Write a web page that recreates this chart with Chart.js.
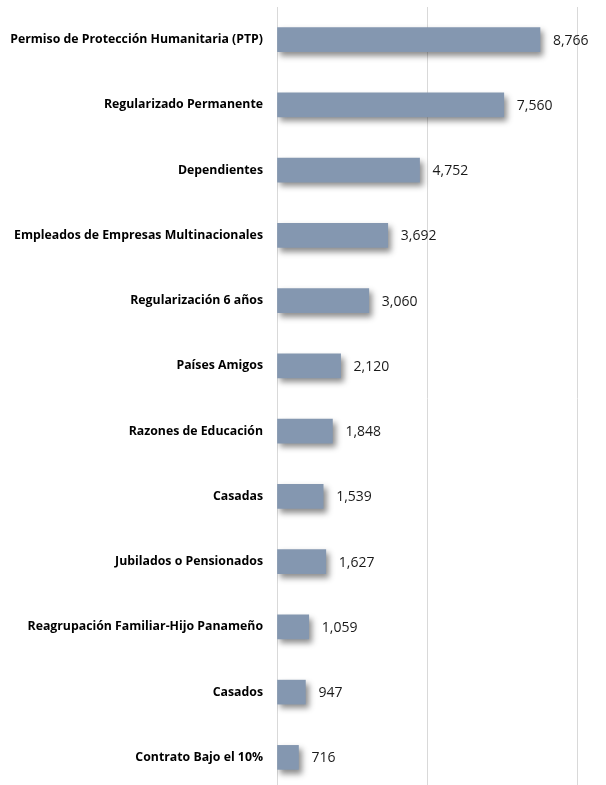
<!DOCTYPE html>
<html>
<head>
<meta charset="utf-8">
<script src="https://cdn.jsdelivr.net/npm/chart.js@4/dist/chart.umd.min.js"></script>
<style>
    html, body { margin: 0; padding: 0; background: #fff; overflow: hidden; }
    #wrap { position: relative; width: 606px; height: 790px; }
</style>
</head>
<body>
<div id="wrap"><canvas id="myChart"></canvas></div>
<script>
var categories = [
    'Permiso de Protección Humanitaria (PTP)',
    'Regularizado Permanente',
    'Dependientes',
    'Empleados de Empresas Multinacionales',
    'Regularización 6 años',
    'Países Amigos',
    'Razones de Educación',
    'Casadas',
    'Jubilados o Pensionados',
    'Reagrupación Familiar-Hijo Panameño',
    'Casados',
    'Contrato Bajo el 10%'
];
var values = [8766, 7560, 4752, 3692, 3060, 2120, 1848, 1539, 1627, 1059, 947, 716];
var axisMin = 0;
var axisMax = 10000;
var axisStep = 5000;

// sombra bajo las barras
var barShadow = {
    id: 'barShadow',
    beforeDatasetsDraw: function (chart) {
        var ctx = chart.ctx;
        ctx.save();
        ctx.shadowColor = 'rgba(0, 0, 0, 0.45)';
        ctx.shadowBlur = 6;
        ctx.shadowOffsetX = 3;
        ctx.shadowOffsetY = 4;
    },
    afterDatasetsDraw: function (chart) {
        chart.ctx.restore();
    }
};

// etiquetas de valor a la derecha de cada barra
var valueLabels = {
    id: 'valueLabels',
    afterDatasetsDraw: function (chart) {
        var ctx = chart.ctx;
        var meta = chart.getDatasetMeta(0);
        ctx.save();
        ctx.font = '14px "Open Sans", Roboto, sans-serif';
        ctx.fillStyle = '#1a1a1a';
        ctx.textAlign = 'left';
        ctx.textBaseline = 'middle';
        meta.data.forEach(function (bar, i) {
            ctx.fillText(values[i].toLocaleString('en-US'), bar.x + 13, bar.y + 1);
        });
        ctx.restore();
    }
};

var ctx = document.getElementById('myChart');
var myChart = new Chart(ctx, {
    type: 'bar',
    data: {
        labels: categories,
        datasets: [{
            data: values,
            backgroundColor: '#8497B0',
            borderWidth: 0,
            barThickness: 24
        }]
    },
    options: {
        indexAxis: 'y',
        responsive: true,
        maintainAspectRatio: false,
        animation: false,
        layout: { padding: { top: 7, right: 29, bottom: 0, left: 0 } },
        plugins: {
            legend: { display: false },
            tooltip: { enabled: false }
        },
        scales: {
            x: {
                min: axisMin,
                max: axisMax,
                ticks: { display: false, stepSize: axisStep },
                grid: { color: '#d9d9d9', drawTicks: false, lineWidth: 1 },
                border: { display: false },
                afterFit: function (scale) {
                    scale.height = 0;
                    scale.paddingLeft = 0;
                    scale.paddingRight = 0;
                }
            },
            y: {
                grid: { display: false, drawTicks: false },
                border: { display: true, color: '#d9d9d9' },
                ticks: {
                    color: '#000',
                    padding: 14,
                    font: { family: '"Open Sans", sans-serif', size: 12.3, weight: 'bold' }
                },
                afterFit: function (scale) {
                    scale.width = 277;
                    scale.paddingTop = 0;
                    scale.paddingBottom = 0;
                }
            }
        }
    },
    plugins: [barShadow, valueLabels]
});
</script>
</body>
</html>
